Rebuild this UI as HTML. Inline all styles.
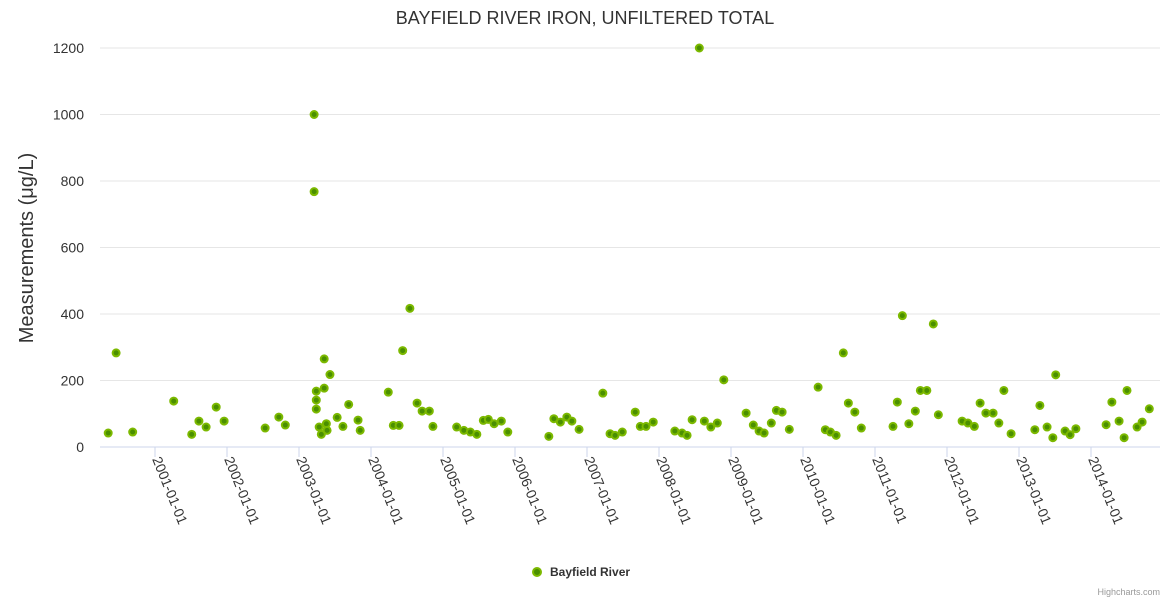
<!DOCTYPE html>
<html><head><meta charset="utf-8"><style>
body{margin:0;background:#fff;}
svg{display:block;font-family:"Liberation Sans","DejaVu Sans",sans-serif;}
</style></head><body>
<svg id="chart" width="1170" height="600">
<text x="585" y="24" text-anchor="middle" font-size="18" fill="#333">BAYFIELD RIVER IRON, UNFILTERED TOTAL</text>
<text transform="translate(33,248) rotate(-90)" text-anchor="middle" font-size="20" fill="#333">Measurements (μg/L)</text>
<g id="grid"></g><g id="xaxis"></g><g id="pts"></g>
<g>
<circle cx="537" cy="572" r="4" fill="#4a8f00" stroke="#7cb900" stroke-width="2"/>
<text x="550" y="576" font-size="12" font-weight="bold" fill="#333">Bayfield River</text>
</g>
<text x="1160" y="595" text-anchor="end" font-size="9" fill="#999">Highcharts.com</text>
</svg>
<script>
const dates=[2000.35,2000.46,2000.69,2001.26,2001.51,2001.61,2001.71,2001.85,2001.96,2002.53,2002.72,2002.81,2003.21,2003.21,2003.24,2003.24,2003.24,2003.28,2003.31,2003.35,2003.35,2003.38,2003.39,2003.43,2003.53,2003.61,2003.69,2003.82,2003.85,2004.24,2004.31,2004.39,2004.44,2004.54,2004.64,2004.71,2004.81,2004.86,2005.19,2005.29,2005.38,2005.47,2005.56,2005.63,2005.71,2005.81,2005.90,2006.47,2006.54,2006.63,2006.72,2006.79,2006.89,2007.22,2007.32,2007.39,2007.49,2007.67,2007.74,2007.82,2007.92,2008.22,2008.32,2008.39,2008.46,2008.56,2008.63,2008.72,2008.81,2008.90,2009.21,2009.31,2009.39,2009.46,2009.56,2009.63,2009.71,2009.81,2010.21,2010.31,2010.38,2010.46,2010.56,2010.63,2010.72,2010.81,2011.25,2011.31,2011.38,2011.47,2011.56,2011.63,2011.72,2011.81,2011.88,2012.21,2012.29,2012.38,2012.46,2012.54,2012.64,2012.72,2012.79,2012.89,2013.22,2013.29,2013.39,2013.47,2013.51,2013.64,2013.71,2013.79,2014.21,2014.29,2014.39,2014.46,2014.50,2014.64,2014.71,2014.81];
const values=[42,283,45,138,38,78,60,120,78,57,90,66,1000,768,168,141,114,60,38,177,265,70,50,218,89,62,128,81,50,165,65,65,290,417,132,108,108,62,60,50,45,38,80,83,70,78,45,32,85,75,90,78,53,162,40,35,45,105,62,62,75,48,42,35,82,1200,78,60,72,202,102,66,48,42,72,110,105,53,180,52,45,35,283,132,105,57,62,135,395,70,108,170,170,370,97,78,72,62,132,102,102,72,170,40,52,125,60,28,217,48,37,55,67,135,78,28,170,60,75,115];
const yTicks=[0,200,400,600,800,1000,1200];
const xTicks=[2001,2002,2003,2004,2005,2006,2007,2008,2009,2010,2011,2012,2013,2014];
const NS="http://www.w3.org/2000/svg";
const X=y=>155+(y-2001)*72;
const Y=v=>447-v*0.3325;
function mk(t,a,p){const e=document.createElementNS(NS,t);for(const k in a)e.setAttribute(k,a[k]);p.appendChild(e);return e;}
const grid=document.getElementById('grid'),xa=document.getElementById('xaxis'),pts=document.getElementById('pts');
yTicks.forEach(t=>{
 const l=mk('line',{x1:100,x2:1160,y1:Y(t),y2:Y(t),stroke:t?'#e6e6e6':'#ccd6eb'},grid);
 
 
 const tx=mk('text',{x:84,y:Y(t)+5,'text-anchor':'end','font-size':14,fill:'#333'},grid);
 tx.textContent=t;
 
 
});
xTicks.forEach(t=>{
 const l=mk('line',{x1:X(t),x2:X(t),y1:447,y2:457,stroke:'#ccd6eb'},xa);
 
 
 const tx=mk('text',{transform:`translate(${X(t)-3},459) rotate(68)`,'font-size':14,fill:'#333'},xa);
 tx.textContent=t+'-01-01';
 
 
});
dates.forEach((d,i)=>{
 const c=mk('circle',{cx:X(d),cy:Y(values[i]),r:3.5,fill:'#4a8f00',stroke:'#7cb900','stroke-width':2},pts);
 
 
});
</script>
</body></html>
